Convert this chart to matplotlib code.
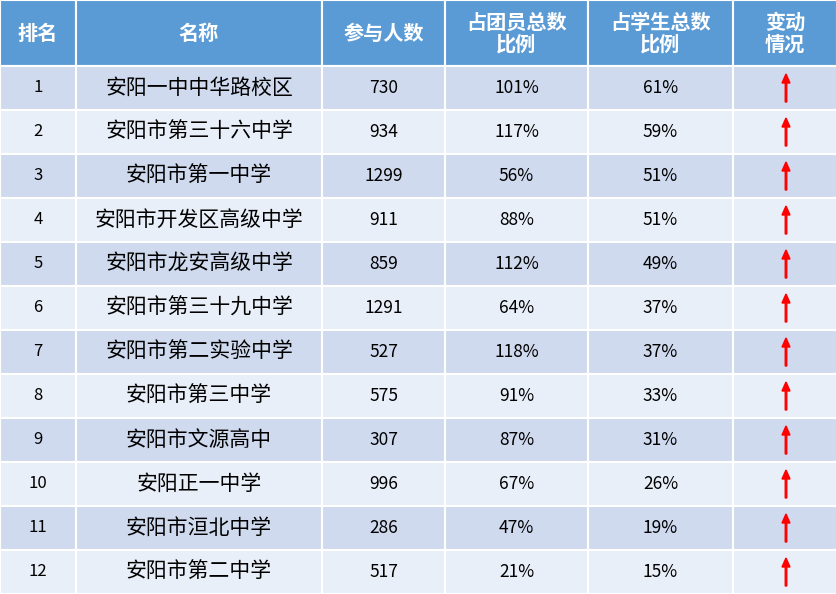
import matplotlib.pyplot as plt
from matplotlib.patches import Rectangle, FancyArrow

plt.rcParams['font.family'] = ['Noto Sans CJK SC', 'DejaVu Sans']

headers = ['排名', '名称', '参与人数', '占团员总数\n比例', '占学生总数\n比例', '变动\n情况']
ranks = list(range(1, 13))
names = ['安阳一中中华路校区', '安阳市第三十六中学', '安阳市第一中学', '安阳市开发区高级中学',
         '安阳市龙安高级中学', '安阳市第三十九中学', '安阳市第二实验中学', '安阳市第三中学',
         '安阳市文源高中', '安阳正一中学', '安阳市洹北中学', '安阳市第二中学']
participants = [730, 934, 1299, 911, 859, 1291, 527, 575, 307, 996, 286, 517]
league_pct = [101, 117, 56, 88, 112, 64, 118, 91, 87, 67, 47, 21]
student_pct = [61, 59, 51, 51, 49, 37, 37, 33, 31, 26, 19, 15]

W, H = 837, 594
col_edges = [0, 76, 322, 445, 588, 733, 837]
header_h = 66
row_h = (H - header_h) / len(ranks)

fig = plt.figure(figsize=(W / 100, H / 100), dpi=100)
ax = fig.add_axes([0, 0, 1, 1])
ax.set_xlim(0, W)
ax.set_ylim(H, 0)
ax.axis('off')

# header
for i, h in enumerate(headers):
    x0, x1 = col_edges[i], col_edges[i + 1]
    ax.add_patch(Rectangle((x0, 0), x1 - x0, header_h, facecolor='#5B9BD5',
                           edgecolor='white', lw=1.5))
    ax.text((x0 + x1) / 2, header_h / 2, h, color='white', fontsize=14.5,
            fontweight='bold', ha='center', va='center', linespacing=1.05)

for r in range(len(ranks)):
    y0 = header_h + r * row_h
    fc = '#CFDAEE' if r % 2 == 0 else '#E9EFF8'
    vals = [str(ranks[r]), names[r], str(participants[r]),
            f'{league_pct[r]}%', f'{student_pct[r]}%', None]
    for c in range(6):
        x0, x1 = col_edges[c], col_edges[c + 1]
        ax.add_patch(Rectangle((x0, y0), x1 - x0, row_h, facecolor=fc,
                               edgecolor='white', lw=1.5))
        cx, cy = (x0 + x1) / 2, y0 + row_h / 2
        if c == 0:
            ax.text(38, cy, vals[c], fontsize=12, ha='center', va='center', color='black')
        elif c == 1:
            ax.text(cx, cy, vals[c], fontsize=15, ha='center', va='center', color='black')
        elif vals[c] is not None:
            ax.text(cx, cy, vals[c], fontsize=12.5, ha='center', va='center', color='black')
        else:
            ax.add_patch(FancyArrow(786, y0 + row_h - 8, 0, -(row_h - 16), width=1.5,
                                    head_width=8, head_length=9,
                                    length_includes_head=True, color='#FF0000'))

fig.savefig('out.png', dpi=100)
